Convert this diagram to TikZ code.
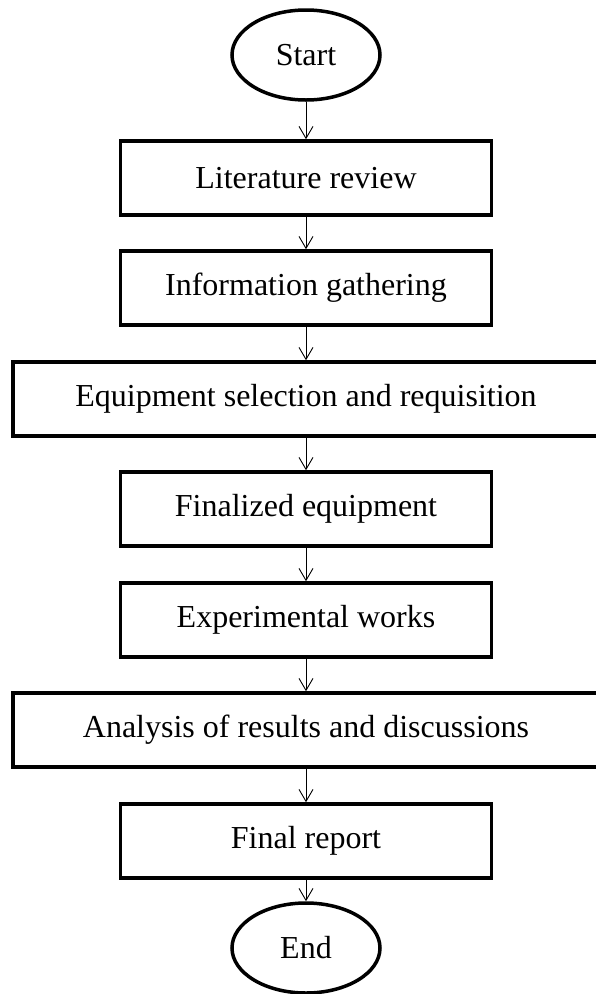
\documentclass[tikz,border=0pt]{standalone}
\usepackage{fontspec}
\setmainfont{Liberation Serif}
\usetikzlibrary{shapes.geometric,arrows.meta}
\begin{document}
\begin{tikzpicture}[x=1pt,y=-1pt,
  every node/.style={font=\fontsize{32}{38}\selectfont},
  terminal/.style={ellipse, draw, line width=3.5pt, minimum width=148pt,
    minimum height=90pt, inner sep=0pt},
  stepbox/.style={rectangle, draw, line width=3.5pt, minimum width=371pt,
    minimum height=74pt, inner sep=0pt},
  widebox/.style={stepbox, minimum width=586pt},
  flow/.style={line width=0.9pt,
    -{Straight Barb[length=12pt,width=14pt,line width=0.9pt]}}
]
\useasboundingbox (0,0) rectangle (596,994);

% terminals and process steps, top to bottom
\node[terminal] (start) at (306,55)  {Start};
\node[stepbox]  (lit)   at (306,178) {Literature review};
\node[stepbox]  (info)  at (306,288) {Information gathering};
\node[widebox]  (equip) at (306,399) {Equipment selection and requisition};
\node[stepbox]  (final) at (306,509) {Finalized equipment};
\node[stepbox]  (exp)   at (306,620) {Experimental works};
\node[widebox]  (anal)  at (306,730) {Analysis of results and discussions};
\node[stepbox]  (rep)   at (306,841) {Final report};
\node[terminal] (end)   at (306,948) {End};

% flow arrows
\draw[flow] (start) -- (lit);
\draw[flow] (lit)   -- (info);
\draw[flow] (info)  -- (equip);
\draw[flow] (equip) -- (final);
\draw[flow] (final) -- (exp);
\draw[flow] (exp)   -- (anal);
\draw[flow] (anal)  -- (rep);
\draw[flow] (rep)   -- (end);
\end{tikzpicture}
\end{document}
